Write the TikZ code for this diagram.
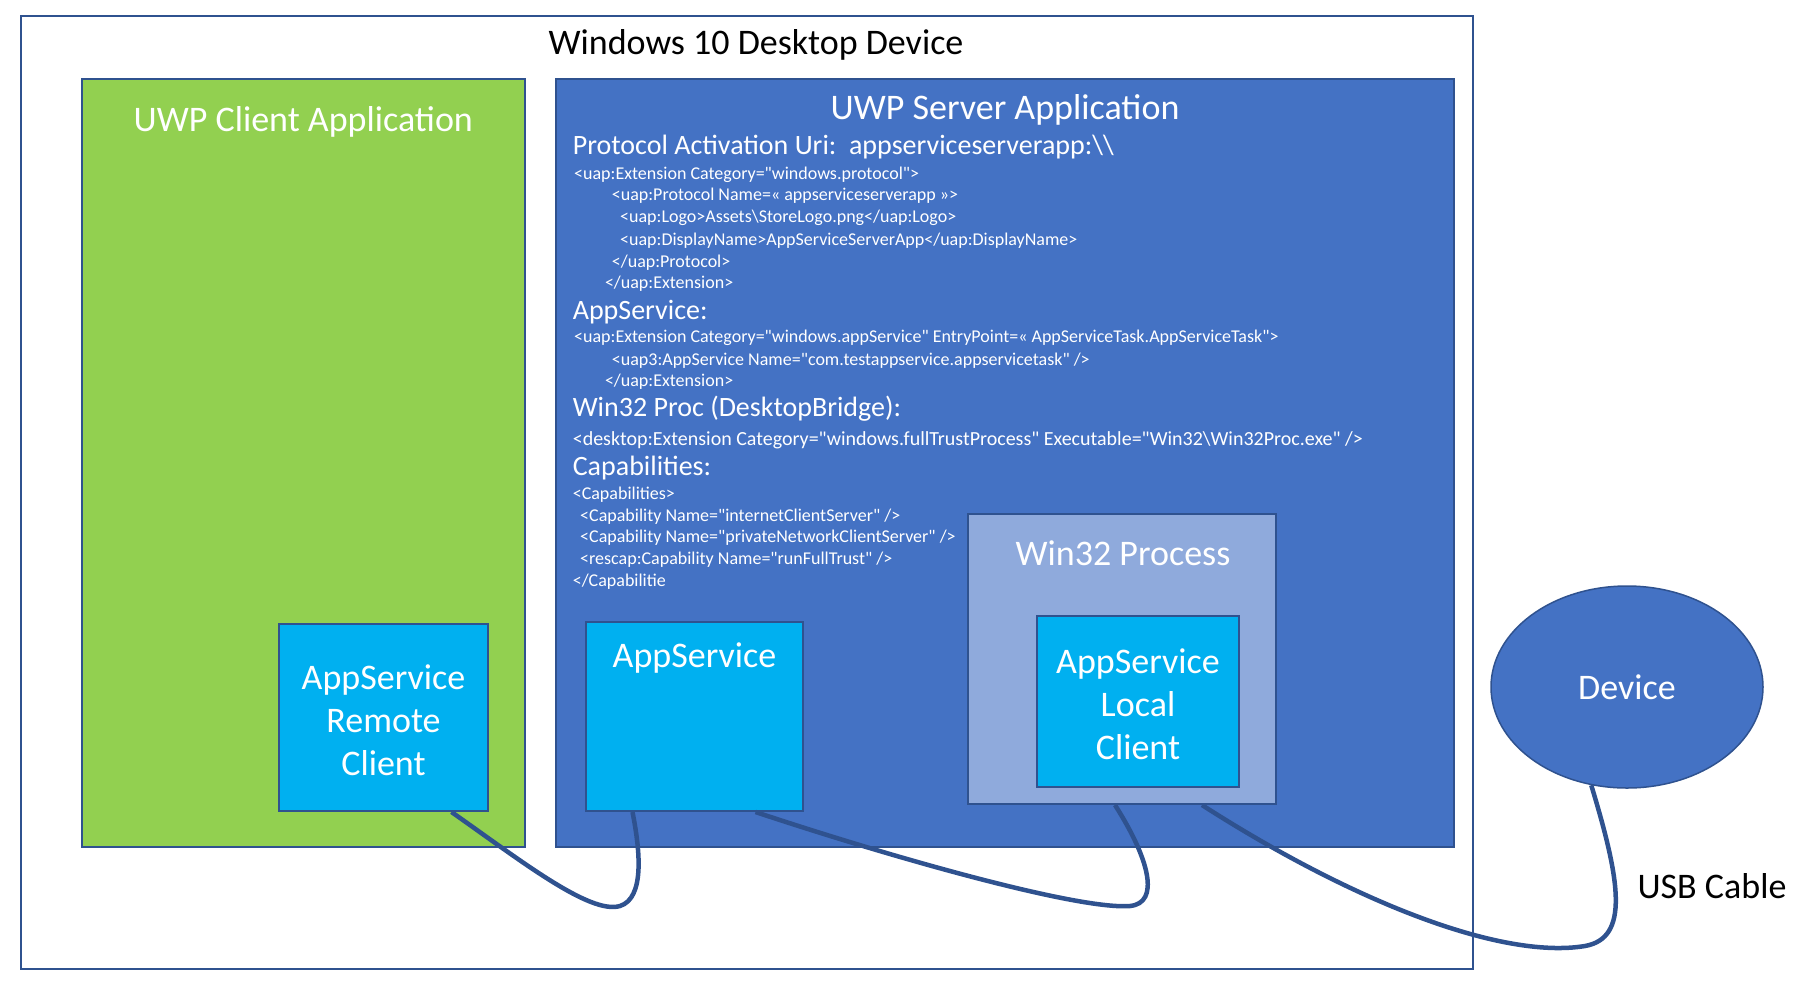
\documentclass[tikz,border=0pt]{standalone}
\usepackage{fontspec}
\setmainfont{Carlito}[Ligatures=TeXOff]
\usepackage{xcolor}
\usetikzlibrary{shapes.geometric,calc}
\definecolor{frameblue}{HTML}{2F528F}
\definecolor{srvblue}{HTML}{4472C4}
\definecolor{cligreen}{HTML}{92D050}
\definecolor{svccyan}{HTML}{00B0F0}
\definecolor{procblue}{HTML}{8FAADC}

\begin{document}
\begin{tikzpicture}[x=1pt,y=-1pt,
	box/.style={draw=frameblue,line width=2pt,inner sep=0pt},
	big/.style={anchor=base,inner sep=0pt,font=\fontsize{36}{43}\selectfont,text=white,align=center},
	head/.style={anchor=base west,inner sep=0pt,font=\fontsize{28}{32}\selectfont,text=white},
	code/.style={anchor=base west,inner sep=0pt,font=\fontsize{18}{21}\selectfont,text=white},
	cable/.style={draw=frameblue,line width=4.5pt}]
	\useasboundingbox (0,0) rectangle (1802,986);
	% outer device
	\node[box,line width=1.5pt,minimum width=1452,minimum height=953] (desk) at (747,492.5) {};
	\node[anchor=base,inner sep=0pt,font=\fontsize{36}{43}\selectfont] (desktitle) at (756,54) {Windows 10 Desktop Device};
	% client app
	\node[box,fill=cligreen,minimum width=443,minimum height=768] (client) at (303.3,463) {};
	\node[big] (clienttitle) at (303.3,131.3) {UWP Client Application};
	\node[box,fill=svccyan,minimum width=209,minimum height=187] (remote) at (383.5,717.5) {};
	\node[big] (remotetxt) at (383.5,775) {AppService\\Remote\\Client};
	% server app
	\node[box,fill=srvblue,minimum width=898,minimum height=768] (server) at (1005,463) {};
	\node[big] (servertitle) at (1005,119) {UWP Server Application};
	\node[head] (h1) at (572.6,154) {Protocol Activation Uri:\ \ appserviceserverapp:\textbackslash\textbackslash};
	\node[code] (c1) at (574,179) {<uap:Extension Category="windows.protocol">};
	\node[code] (c2) at (611.7,200.6) {<uap:Protocol Name=« appserviceserverapp »>};
	\node[code] (c3) at (620,222.7) {<uap:Logo>Assets\textbackslash StoreLogo.png</uap:Logo>};
	\node[code] (c4) at (620,245.3) {<uap:DisplayName>AppServiceServerApp</uap:DisplayName>};
	\node[code] (c5) at (611.7,267.3) {</uap:Protocol>};
	\node[code] (c6) at (604.8,288.6) {</uap:Extension>};
	\node[head] (h2) at (572.6,319.4) {AppService:};
	\node[code] (c7) at (574,342.8) {<uap:Extension Category="windows.appService" EntryPoint=« AppServiceTask.AppServiceTask">};
	\node[code] (c8) at (611.7,365) {<uap3:AppService Name="com.testappservice.appservicetask" />};
	\node[code] (c9) at (604.8,386.6) {</uap:Extension>};
	\node[head] (h3) at (572.6,416.7) {Win32 Proc (DesktopBridge):};
	\node[code,font=\fontsize{20}{23}\selectfont] (c10) at (572.6,445.1) {<desktop:Extension Category="windows.fullTrustProcess" Executable="Win32\textbackslash Win32Proc.exe" />};
	\node[head] (h4) at (572.6,475.6) {Capabilities:};
	\node[code] (c11) at (572.6,499) {<Capabilities>};
	\node[code] (c12) at (580,521.7) {<Capability Name="internetClientServer" />};
	\node[code] (c13) at (580,542.8) {<Capability Name="privateNetworkClientServer" />};
	\node[code] (c14) at (580,564.4) {<rescap:Capability Name="runFullTrust" />};
	\node[code] (c15) at (572.6,586.7) {</Capabilitie};
	\node[box,fill=svccyan,minimum width=217,minimum height=189] (svc) at (694.5,716.5) {};
	\node[big] (svctxt) at (694.5,667.3) {AppService};
	% win32 process
	\node[box,fill=procblue,minimum width=308,minimum height=290] (proc) at (1122,659) {};
	\node[big] (proctitle) at (1123,565.6) {Win32 Process};
	\node[box,fill=svccyan,minimum width=202,minimum height=171] (local) at (1138,701.5) {};
	\node[big] (localtxt) at (1138,759) {AppService\\Local\\Client};
	% device
	\node[ellipse,draw=frameblue,line width=1.5pt,fill=srvblue,minimum width=272,minimum height=202,
		text=white,font=\fontsize{36}{43}\selectfont] (dev) at (1627,687) {Device};
	\node[anchor=base,inner sep=0pt,font=\fontsize{36}{43}\selectfont] (usb) at (1712,898) {USB Cable};
	% cables
	\draw[cable] ([xshift=68]remote.south) .. controls (520,860) and (590,915) .. (620,906)
		.. controls (645,898) and (640,850) .. ([xshift=-62]svc.south);
	\draw[cable] ([xshift=61]svc.south) .. controls (900,860) and (1080,910) .. (1130,906)
		.. controls (1160,903) and (1150,860) .. ([xshift=-7]proc.south);
	\draw[cable] ([xshift=80]proc.south) .. controls (1350,900) and (1500,960) .. (1585,946)
		.. controls (1630,938) and (1620,880) .. (dev.-110);
\end{tikzpicture}
\end{document}
